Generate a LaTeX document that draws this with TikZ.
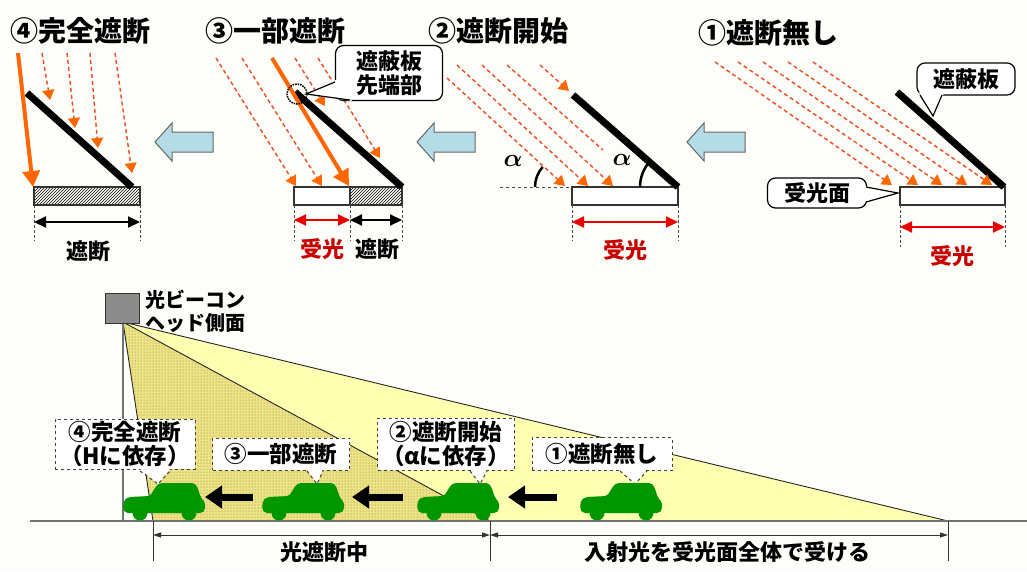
\documentclass[tikz,border=0pt]{standalone}
\usepackage{fontspec}
\setmainfont{Noto Sans CJK JP}
\usepackage{amsmath}
\usepackage{tikz}
\usetikzlibrary{arrows.meta, patterns, positioning}
\definecolor{paper}{RGB}{253,253,249}
\definecolor{rayred}{RGB}{240,75,35}
\definecolor{rayorange}{RGB}{255,102,0}
\definecolor{stageblue}{RGB}{180,220,230}
\definecolor{beamyellow}{RGB}{255,255,178}
\definecolor{stippleback}{RGB}{238,228,135}
\definecolor{stipple}{RGB}{130,115,45}
\definecolor{cargreen}{RGB}{0,150,0}
\definecolor{dimred}{RGB}{235,0,0}
\definecolor{labelred}{RGB}{200,0,0}

\tikzset{
  car/.pic={
    \fill[cargreen, rounded corners=2pt] (3,-8) -- (0,-12) -- (1,-21) -- (6,-24) -- (27,-25)
      -- (34,-36) -- (37,-38) -- (71,-38) -- (74,-35) -- (78,-23) -- (82,-19)
      -- (82,-11) -- (79,-8) -- cycle;
    \fill[cargreen] (17,-8) circle[radius=7.5] (66,-8) circle[radius=7.5];
  },
  stagearrow/.pic={
    \draw[fill=stageblue, draw=black!60, line width=1pt]
      (0,0) -- (17,-19) -- (17,-10) -- (58,-10) -- (58,10) -- (17,10) -- (17,19) -- cycle;
  }
}

\begin{document}
\begin{tikzpicture}[x=1pt, y=-1pt,
  title/.style={font=\fontsize{28}{32}\selectfont\bfseries},
  dimlabel/.style={font=\fontsize{22}{25}\selectfont\bfseries},
  callout/.style={draw, line width=1.2pt, rounded corners=8pt, fill=white, align=center,
    font=\fontsize{22}{24}\selectfont\bfseries, inner sep=0pt},
  carnote/.style={draw=black!75, dashed, line width=1pt, fill=white, align=center,
    font=\fontsize{22.5}{24}\selectfont\bfseries, inner sep=0pt},
  ray/.style={rayred, line width=1.4pt, dash pattern=on 4pt off 3pt,
    -{Triangle[length=10pt, width=12pt, color=rayorange, fill=rayorange]}},
  plainray/.style={rayred, line width=1.4pt, dash pattern=on 4pt off 3pt},
  mainray/.style={rayorange, line width=4pt,
    -{Triangle[length=16pt, width=17pt]}},
  board/.style={line width=7pt},
  surface/.style={draw=black!80, line width=1.2pt, fill=white},
  shade/.style={draw=black!80, line width=1.2pt, pattern=north east lines},
  guide/.style={black!70, line width=1pt, densely dashed},
  lightdim/.style={dimred, line width=2pt, {Triangle[length=12pt, width=11pt]}-{Triangle[length=12pt, width=11pt]}},
  blockdim/.style={black, line width=2pt, {Triangle[length=12pt, width=11pt]}-{Triangle[length=12pt, width=11pt]}},
  carrow/.style={line width=7pt, -{Triangle[length=17pt, width=22pt]}},
  gdim/.style={black!80, line width=0.9pt, {Triangle[length=8pt, width=5pt]}-{Triangle[length=8pt, width=5pt]}}
]
  \fill[paper] (0,0) rectangle (1027,571);
  \useasboundingbox (0,0) rectangle (1027,571);

  % stage titles
  \node[title] (t4) at (80,31) {④完全遮断};
  \node[title] (t3) at (275,31) {③一部遮断};
  \node[title] (t2) at (498,31) {②遮断開始};
  \node[title] (t1) at (768,33) {①遮断無し};

  % stage 4
  \draw[shade] (34,187) rectangle (140,205);
  \draw[board] (27,93) -- (132,187);
  \draw[ray] (42,53) -- (50,100);
  \draw[ray] (67,53) -- (75,128);
  \draw[ray] (90,53) -- (98,148);
  \draw[ray] (115,53) -- (132,173);
  \draw[mainray] (18,53) -- (33,187);
  \draw[guide] (34,205) -- (34,241) (140,205) -- (140,241);
  \draw[blockdim] (34,222) -- (140,222);
  \node[dimlabel] (b4) at (88,251) {遮断};

  % stage 3
  \draw[surface] (294,187) rectangle (350,205);
  \draw[shade] (350,187) rectangle (402,205);
  \draw[board] (295,92) -- (402,187);
  \draw[ray] (216,58) -- (296,186);
  \draw[ray] (242,58) -- (322,186);
  \draw[ray] (295,58) -- (325,106);
  \draw[ray] (318,58) -- (380,158);
  \draw[mainray] (272,58) -- (349,186);
  \draw[black, line width=1.5pt, densely dotted] (297,94) circle[radius=10];
  \draw[guide] (294,205) -- (294,241) (350,205) -- (350,241) (402,205) -- (402,241);
  \draw[lightdim] (294,220) -- (350,220);
  \draw[blockdim] (350,220) -- (402,220);
  \node[dimlabel, text=labelred] (l3) at (322,249) {受光};
  \node[dimlabel] (b3) at (377,249) {遮断};
  \node[callout, minimum width=107pt, minimum height=55pt] (tipnote) at (389,73) {遮蔽板\\先端部};
  \fill[white] (336,80) -- (306,94) -- (352,101) -- cycle;
  \draw[line width=1.2pt] (335,82) -- (306,94) -- (350,100);

  % stage 2
  \draw[surface] (572,187) rectangle (678,205);
  \draw[board] (573,95) -- (678,187);
  \draw[ray] (447,78) -- (565,186);
  \draw[ray] (457,65) -- (588,186);
  \draw[ray] (482,65) -- (613,186);
  \draw[plainray] (507,65) -- (603,150);
  \draw[ray] (540,65) -- (569,91);
  \draw[black!70, line width=1pt, dashed] (500,187) -- (572,187);
  \draw[line width=2.5pt] (535,187) arc[start angle=180, end angle=222, radius=30];
  \draw[line width=2.5pt] (640,187) arc[start angle=180, end angle=220, radius=38];
  \node[font=\fontsize{28}{30}\selectfont] (a1) at (513,161) {$\boldsymbol{\alpha}$};
  \node[font=\fontsize{28}{30}\selectfont] (a2) at (622,160) {$\boldsymbol{\alpha}$};
  \draw[guide] (572,205) -- (572,241) (678,205) -- (678,241);
  \draw[lightdim] (572,222) -- (678,222);
  \node[dimlabel, text=labelred] (l2) at (625,250) {受光};

  % stage 1
  \draw[surface] (900,187) rectangle (1005,205);
  \draw[board] (897,92) -- (1004,187);
  \foreach \s/\e in {715/892, 738/918, 763/942, 788/967, 813/992}
    \draw[ray] (\s,62) -- (\e,185);
  \draw[guide] (900,205) -- (900,247) (1005,205) -- (1005,247);
  \draw[lightdim] (900,227) -- (1005,227);
  \node[dimlabel, text=labelred] (l1) at (952,256) {受光};
  \node[callout, minimum width=98pt, minimum height=32pt] (boardnote) at (966,79) {遮蔽板};
  \fill[white] (919,92) -- (933,116) -- (944,93) -- cycle;
  \draw[line width=1.2pt] (920,95) -- (933,116) -- (942,95);
  \node[callout, minimum width=99pt, minimum height=30pt] (surfnote) at (817,193) {受光面};
  \fill[white] (864,186) -- (898,193) -- (864,202) -- cycle;
  \draw[line width=1.2pt] (866,187) -- (898,193) -- (866,202);

  % stage order
  \pic at (155,142) {stagearrow};
  \pic at (417,142) {stagearrow};
  \pic at (687,142) {stagearrow};

  % beacon and light cone
  \fill[beamyellow] (123,322) -- (153,521) -- (948,521) -- cycle;
  \fill[stippleback] (123,322) -- (153,521) -- (490,521) -- cycle;
  \fill[pattern=dots, pattern color=stipple] (123,322) -- (153,521) -- (490,521) -- cycle;
  \draw[black!85, line width=0.9pt] (153,521) -- (123,322) -- (948,521);
  \draw[black!85, line width=0.9pt] (123,322) -- (490,521);
  \draw[black!55, line width=1.5pt] (123,322) -- (123,521);
  \draw[black!55, line width=1.2pt] (30,521) -- (1027,521);
  \node[draw=black!80, fill=black!45, line width=1pt, minimum width=34pt, minimum height=30pt,
    inner sep=0pt] (head) at (122,308) {};
  \node[anchor=west, align=left, font=\fontsize{20}{23}\selectfont\bfseries] (headlabel)
    at (142,311) {光ビーコン\\ヘッド側面};

  % vehicles and notes
  \node[carnote, minimum width=140pt, minimum height=50pt] (n4) at (125,444) {④完全遮断\\（Hに依存）};
  \node[carnote, minimum width=137pt, minimum height=32pt] (n3) at (281,454) {③一部遮断};
  \node[carnote, minimum width=137pt, minimum height=52pt] (n2) at (446,444) {②遮断開始\\（αに依存）};
  \node[carnote, minimum width=140pt, minimum height=33pt] (n1) at (602,454) {①遮断無し};
  \foreach \a/\t/\b in {140/158/170, 307/317/323, 470/480/487, 620/635/647} {
    \fill[white] (\a,469) -- (\t,484) -- (\b,469) -- cycle;
    \draw[black!75, dashed, line width=1pt] (\a,471) -- (\t,484) -- (\b,471);
  }
  \pic at (123,521) {car};
  \pic at (262,521) {car};
  \pic at (417,521) {car};
  \pic at (580,521) {car};
  \draw[carrow] (557,497) -- (508,497);
  \draw[carrow] (403,497) -- (352,497);
  \draw[carrow] (253,497) -- (205,497);

  % ranges on the road
  \coordinate (r0) at (153,521);
  \coordinate (r1) at (490,521);
  \coordinate (r2) at (948,521);
  \draw[black!80, line width=0.9pt] (r0) -- ++(0,40) (r1) -- ++(0,40) (r2) -- ++(0,40);
  \draw[gdim] ([yshift=-14pt]r0) -- ([yshift=-14pt]r1);
  \draw[gdim] ([yshift=-14pt]r1) -- ([yshift=-14pt]r2);
  \node[dimlabel] (g1) at (324,552) {光遮断中};
  \node[dimlabel] (g2) at (727,552) {入射光を受光面全体で受ける};
\end{tikzpicture}
\end{document}
